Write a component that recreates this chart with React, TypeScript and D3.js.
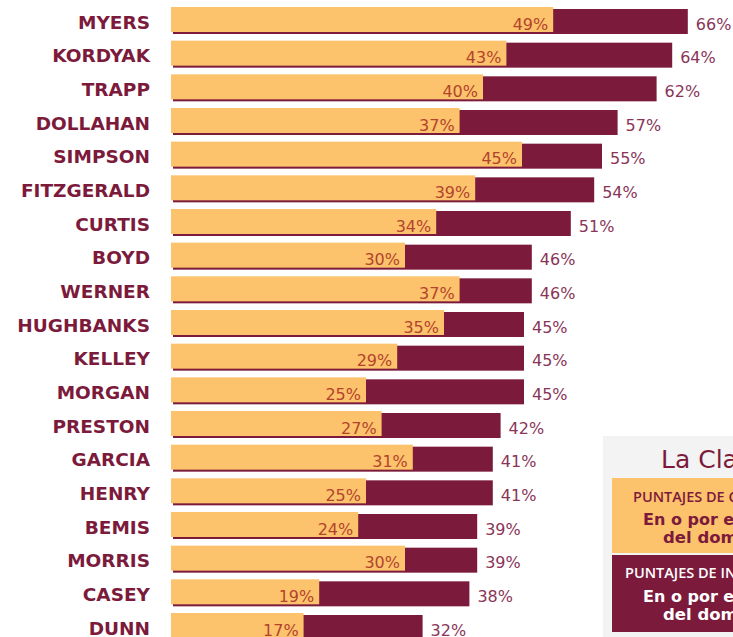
import * as d3 from 'd3';

const names = ['MYERS', 'KORDYAK', 'TRAPP', 'DOLLAHAN', 'SIMPSON', 'FITZGERALD', 'CURTIS', 'BOYD', 'WERNER', 'HUGHBANKS', 'KELLEY', 'MORGAN', 'PRESTON', 'GARCIA', 'HENRY', 'BEMIS', 'MORRIS', 'CASEY', 'DUNN'];
const advanced = [49, 43, 40, 37, 45, 39, 34, 30, 37, 35, 29, 25, 27, 31, 25, 24, 30, 19, 17];
const proficient = [66, 64, 62, 57, 55, 54, 51, 46, 46, 45, 45, 45, 42, 41, 41, 39, 39, 38, 32];

const legendTitle = 'La Clave';
const legendOrange = ['PUNTAJES DE CONOCIMIENTO', 'En o por encima', 'del dominio'];
const legendMaroon = ['PUNTAJES DE INGLÉS', 'En o por encima', 'del dominio'];

const W = 733;
const H = 637;
const ORANGE = '#fdc26c';
const MAROON = '#7c1a3b';
const INNER_TXT = '#b3442c';
const OUTER_TXT = '#8a3558';
const PCT_FONT = "'DejaVu Sans', sans-serif";

export default function App() {
  const y = d3.scaleBand<string>().domain(names).range([7, 638]).paddingInner(0.2575).paddingOuter(0);
  const x = d3.scaleLinear().domain([0, 100]).range([0, 780]);
  const bh = y.bandwidth();
  const x0 = 171;

  return (
    <div style={{ position: 'absolute', left: 0, top: 0 }}>
      <svg width={W} height={H} style={{ display: 'block', background: '#fff' }}>
        {names.map((n, i) => {
          const top = y(n)!;
          return (
            <g key={n}>
              <text
                x={150}
                y={top + 21.5}
                textAnchor="end"
                fontFamily="'DejaVu Sans', sans-serif"
                fontWeight={700}
                fontSize={18.5}
                fill={MAROON}
              >
                {n}
              </text>
              <rect x={x0 + 2} y={top + 2} width={x(proficient[i])} height={bh} fill={MAROON} />
              <rect x={x0} y={top} width={x(advanced[i])} height={bh} fill={ORANGE} />
              <text
                x={x0 + x(advanced[i]) - 5}
                y={top + 22.5}
                textAnchor="end"
                fontFamily={PCT_FONT}
                fontWeight={400}
                fontSize={16}
                fill={INNER_TXT}
              >
                {advanced[i]}%
              </text>
              <text
                x={x0 + 2 + x(proficient[i]) + 8}
                y={top + 22.5}
                fontFamily={PCT_FONT}
                fontWeight={400}
                fontSize={16}
                fill={OUTER_TXT}
              >
                {proficient[i]}%
              </text>
            </g>
          );
        })}

        <g>
          <rect x={603} y={436} width={200} height={210} fill="#f3f3f3" />
          <text x={661} y={468} fontFamily="'DejaVu Sans', sans-serif" fontSize={25} fill={MAROON}>
            {legendTitle}
          </text>
          <rect x={612} y={478} width={200} height={75} fill={ORANGE} />
          <rect x={612} y={555} width={200} height={77} fill={MAROON} />
          <text x={633} y={502} fontFamily="'Open Sans', sans-serif" fontWeight={600} fontSize={14.5} fill={MAROON}>
            {legendOrange[0]}
          </text>
          <text x={643} y={525} fontFamily="'DejaVu Sans', sans-serif" fontWeight={700} fontSize={16} fill={MAROON}>
            {legendOrange[1]}
          </text>
          <text x={663} y={543} fontFamily="'DejaVu Sans', sans-serif" fontWeight={700} fontSize={16.5} fill={MAROON}>
            {legendOrange[2]}
          </text>
          <text x={625} y={578} fontFamily="'Open Sans', sans-serif" fontWeight={600} fontSize={14.5} fill="#fff">
            {legendMaroon[0]}
          </text>
          <text x={643} y={602} fontFamily="'DejaVu Sans', sans-serif" fontWeight={700} fontSize={16} fill="#fff">
            {legendMaroon[1]}
          </text>
          <text x={663} y={620} fontFamily="'DejaVu Sans', sans-serif" fontWeight={700} fontSize={16.5} fill="#fff">
            {legendMaroon[2]}
          </text>
        </g>
      </svg>
    </div>
  );
}
